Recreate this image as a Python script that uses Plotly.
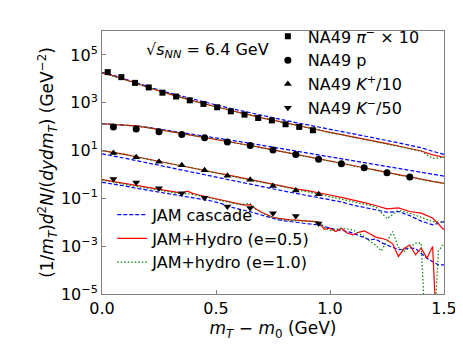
import numpy as np
import plotly.graph_objects as go

# ---- NA49 data points (log10 of yield, already scaled) ----
pi_x = [0.025, 0.085, 0.145, 0.205, 0.265, 0.325, 0.385, 0.445,
        0.505, 0.565, 0.625, 0.685, 0.745, 0.805, 0.865, 0.925]
pi_log = [4.28, 4.07, 3.83, 3.64, 3.42, 3.26, 3.10, 2.95,
          2.81, 2.64, 2.50, 2.36, 2.26, 2.10, 1.99, 1.85]

p_x = [0.05, 0.15, 0.25, 0.35, 0.45, 0.55, 0.65, 0.75,
       0.85, 0.95, 1.05, 1.15, 1.25, 1.35]
p_log = [1.99, 1.90, 1.79, 1.67, 1.53, 1.36, 1.21, 1.02,
         0.83, 0.64, 0.45, 0.28, 0.07, -0.11]

kp_x = [0.05, 0.15, 0.25, 0.35, 0.45, 0.55, 0.65, 0.75, 0.85, 0.95]
kp_log = [0.90, 0.72, 0.53, 0.38, 0.18, -0.05, -0.22, -0.48, -0.67, -0.83]

km_x = [0.05, 0.15, 0.25, 0.35, 0.45, 0.55, 0.65, 0.75, 0.85, 0.95]
km_log = [-0.19, -0.34, -0.58, -0.79, -0.97, -1.34, -1.40, -1.62, -1.74, -2.05]

# ---- JAM model curves (log10), -8 marks an empty bin ----
grid_05 = np.linspace(0.0, 1.5, 31)
grid_025 = np.linspace(0.0, 1.5, 61)

pi_cascade = [4.27, 4.15, 3.99, 3.83, 3.67, 3.53, 3.40, 3.27, 3.15, 3.03, 2.91,
              2.79, 2.68, 2.57, 2.47, 2.37, 2.27, 2.17, 2.08, 1.98, 1.88,
              1.78, 1.69, 1.60, 1.51, 1.42, 1.32, 1.22, 1.12, 0.97, 0.84]
pi_hydro05 = [4.25, 4.13, 3.97, 3.80, 3.64, 3.49, 3.35, 3.21, 3.08, 2.95, 2.83,
              2.71, 2.59, 2.48, 2.37, 2.27, 2.16, 2.06, 1.96, 1.86, 1.76,
              1.66, 1.57, 1.48, 1.38, 1.29, 1.19, 1.09, 0.98, 0.82, 0.72]
pi_hydro10 = [4.25, 4.12, 3.96, 3.80, 3.65, 3.50, 3.34, 3.21, 3.07, 2.96, 2.82,
              2.72, 2.58, 2.49, 2.36, 2.27, 2.15, 2.07, 1.95, 1.87, 1.74,
              1.67, 1.55, 1.47, 1.37, 1.27, 1.18, 1.07, 0.97, 0.67, 0.72]

p_cascade = [2.12, 2.10, 2.07, 2.03, 1.97, 1.90, 1.83, 1.76, 1.69, 1.61, 1.54,
             1.46, 1.38, 1.30, 1.22, 1.14, 1.06, 0.98, 0.90, 0.82, 0.74,
             0.66, 0.58, 0.50, 0.42, 0.34, 0.25, 0.17, 0.09, 0.01, -0.07]
p_hydro05 = [2.12, 2.10, 2.07, 2.03, 1.96, 1.88, 1.80, 1.72, 1.64, 1.55, 1.47,
             1.39, 1.30, 1.21, 1.12, 1.03, 0.94, 0.84, 0.75, 0.65, 0.56,
             0.46, 0.37, 0.28, 0.18, 0.08, -0.01, -0.10, -0.19, -0.29, -0.37]
p_hydro10 = [2.13, 2.10, 2.06, 2.02, 1.96, 1.89, 1.79, 1.72, 1.63, 1.56, 1.46,
             1.39, 1.29, 1.22, 1.11, 1.03, 0.93, 0.85, 0.74, 0.66, 0.55,
             0.47, 0.36, 0.28, 0.17, 0.09, -0.03, -0.09, -0.21, -0.30, -0.38]

kp_cascade = [0.86, 0.78, 0.68, 0.58, 0.48, 0.38, 0.28, 0.18, 0.08, -0.03, -0.13,
              -0.23, -0.33, -0.42, -0.52, -0.62, -0.70, -0.79, -0.88, -0.96, -1.05,
              -1.15, -1.28, -1.38, -1.45, -1.58, -1.55, -1.72, -1.95, -2.11, -1.97]
kp_hydro05 = [1.00, 0.93, 0.84, 0.74, 0.64, 0.55, 0.46, 0.37, 0.27, 0.17, 0.07,
              -0.02, -0.12, -0.21, -0.31, -0.41, -0.50, -0.60, -0.68, -0.76, -0.86,
              -0.96, -1.06, -1.18, -1.30, -1.44, -1.40, -1.55, -1.62, -1.82, -2.32]
kp_hydro10 = [1.00, 0.92, 0.83, 0.75, 0.63, 0.55, 0.45, 0.36, 0.27, 0.15, 0.06,
              -0.04, -0.13, -0.24, -0.33, -0.43, -0.52, -0.63, -0.71, -0.82, -0.93,
              -1.03, -1.15, -1.24, -1.35, -1.85, -1.50, -1.62, -1.78, -1.97, -2.00]

km_cascade = [-0.33, -0.36, -0.40, -0.44, -0.48, -0.53, -0.58, -0.62, -0.66, -0.70,
              -0.74, -0.78, -0.82, -0.86, -0.90, -0.93, -0.96, -1.00, -1.04, -1.10,
              -1.16, -1.22, -1.33, -1.38, -1.44, -1.50, -1.56, -1.63, -1.70, -1.78,
              -1.85, -1.90, -1.94, -1.98, -2.00, -2.03, -2.06, -2.09, -2.11, -2.18,
              -2.25, -2.30, -2.33, -2.38, -2.45, -2.55, -2.65, -2.74, -2.70, -2.85,
              -2.95, -3.05, -3.15, -3.12, -3.08, -3.10, -3.30, -3.50, -3.65, -3.78,
              -3.78]
km_hydro05 = [-0.22, -0.26, -0.30, -0.34, -0.39, -0.43, -0.48, -0.52, -0.56, -0.60,
              -0.64, -0.68, -0.72, -0.76, -0.78, -0.70, -0.80, -0.86, -0.91, -0.96,
              -1.03, -1.09, -1.14, -1.19, -1.24, -1.28, -1.26, -1.45, -1.58, -1.70,
              -1.79, -1.84, -1.88, -1.90, -1.91, -1.93, -1.95, -1.97, -1.98, -2.30,
              -2.25, -2.39, -2.25, -2.45, -2.53, -2.42, -2.36, -2.48, -2.62, -2.67,
              -2.74, -2.90, -3.43, -3.10, -2.95, -3.36, -3.08, -3.50, -3.01, -8.0,
              -8.0]
km_hydro10 = [-0.23, -0.28, -0.32, -0.36, -0.41, -0.45, -0.50, -0.54, -0.58, -0.62,
              -0.66, -0.70, -0.74, -0.78, -0.82, -0.80, -0.84, -0.88, -0.93, -0.98,
              -1.05, -1.10, -1.16, -1.21, -1.25, -1.24, -1.22, -1.45, -1.60, -1.72,
              -1.80, -1.86, -1.90, -1.92, -1.93, -1.95, -1.96, -1.98, -1.98, -2.20,
              -2.35, -2.30, -2.25, -2.28, -2.32, -2.45, -2.60, -2.80, -2.95, -3.20,
              -2.80, -2.39, -3.05, -3.22, -3.05, -2.87, -2.87, -8.0, -8.0, -3.22,
              -2.87]

FONT = "DejaVu Sans"
BLUE, RED, GREEN = "#0000ff", "#ff0000", "#008000"

fig = go.Figure()

models = [
    ("JAM cascade", BLUE, "4px,2px"),
    ("JAM+Hydro (e=0.5)", RED, "solid"),
    ("JAM+hydro (e=1.0)", GREEN, "1.5px,2px"),
]
curves = [
    (grid_05, [pi_cascade, pi_hydro05, pi_hydro10]),
    (grid_05, [p_cascade, p_hydro05, p_hydro10]),
    (grid_05, [kp_cascade, kp_hydro05, kp_hydro10]),
    (grid_025, [km_cascade, km_hydro05, km_hydro10]),
]

for m, (name, color, dash) in enumerate(models):
    for s, (xg, sets) in enumerate(curves):
        fig.add_trace(go.Scatter(
            x=xg, y=10 ** np.array(sets[m]), mode="lines",
            line=dict(color=color, dash=dash, width=1.2),
            name=name, legend="legend2", showlegend=(s == 0),
        ))

points = [
    ("NA49 <i>π</i><sup>−</sup> × 10", pi_x, pi_log, "square", 6),
    ("NA49 p", p_x, p_log, "circle", 7),
    ("NA49 <i>K</i><sup>+</sup>/10", kp_x, kp_log, "triangle-up", 7),
    ("NA49 <i>K</i><sup>−</sup>/50", km_x, km_log, "triangle-down", 7),
]
for name, x, ylog, sym, size in points:
    fig.add_trace(go.Scatter(
        x=x, y=10 ** np.array(ylog), mode="markers", name=name,
        marker=dict(symbol=sym, size=size, color="black"),
        legend="legend",
    ))

# log axis: annotation y is given in decades
fig.add_annotation(
    x=0.462, y=5.2, xref="x", yref="y",
    text="√<i>s<sub>NN</sub></i> = 6.4 GeV", showarrow=False,
    font=dict(family=FONT, size=16, color="black"),
)

axis_style = dict(
    showline=True, linecolor="#808080", linewidth=1, mirror=True,
    ticks="inside", ticklen=4, tickcolor="#808080",
    showgrid=False, zeroline=False,
    tickfont=dict(family=FONT, size=16, color="black"),
)

fig.update_xaxes(
    range=[0, 1.5], tickvals=[0, 0.5, 1.0, 1.5],
    ticktext=["0.0", "0.5", "1.0", "1.5"],
    title=dict(text="<i>m<sub>T</sub></i> − <i>m</i><sub>0</sub> (GeV)",
               font=dict(family=FONT, size=17, color="black"), standoff=4),
    **axis_style,
)
fig.update_yaxes(
    type="log", range=[-5, 6],
    tickvals=[1e-5, 1e-3, 1e-1, 1e1, 1e3, 1e5],
    ticktext=["10<sup>−5</sup>", "10<sup>−3</sup>", "10<sup>−1</sup>",
              "10<sup>1</sup>", "10<sup>3</sup>", "10<sup>5</sup>"],
    title=dict(text="(1/<i>m<sub>T</sub></i>)<i>d</i><sup>2</sup><i>N</i>/(<i>dydm<sub>T</sub></i>) (GeV<sup>−2</sup>)",
               font=dict(family=FONT, size=17, color="black"), standoff=2),
    **axis_style,
)

fig.update_layout(
    width=463, height=347,
    margin=dict(l=94, r=27, t=22, b=61),
    plot_bgcolor="white", paper_bgcolor="white",
    font=dict(family=FONT, color="black"),
    legend=dict(x=0.485, y=1.04, xanchor="left", yanchor="top",
                bgcolor="rgba(0,0,0,0)", font=dict(family=FONT, size=16),
                tracegroupgap=0),
    legend2=dict(x=0.03, y=0.365, xanchor="left", yanchor="top",
                 bgcolor="rgba(0,0,0,0)", font=dict(family=FONT, size=16),
                 tracegroupgap=0),
)

fig.write_html("out.html")
